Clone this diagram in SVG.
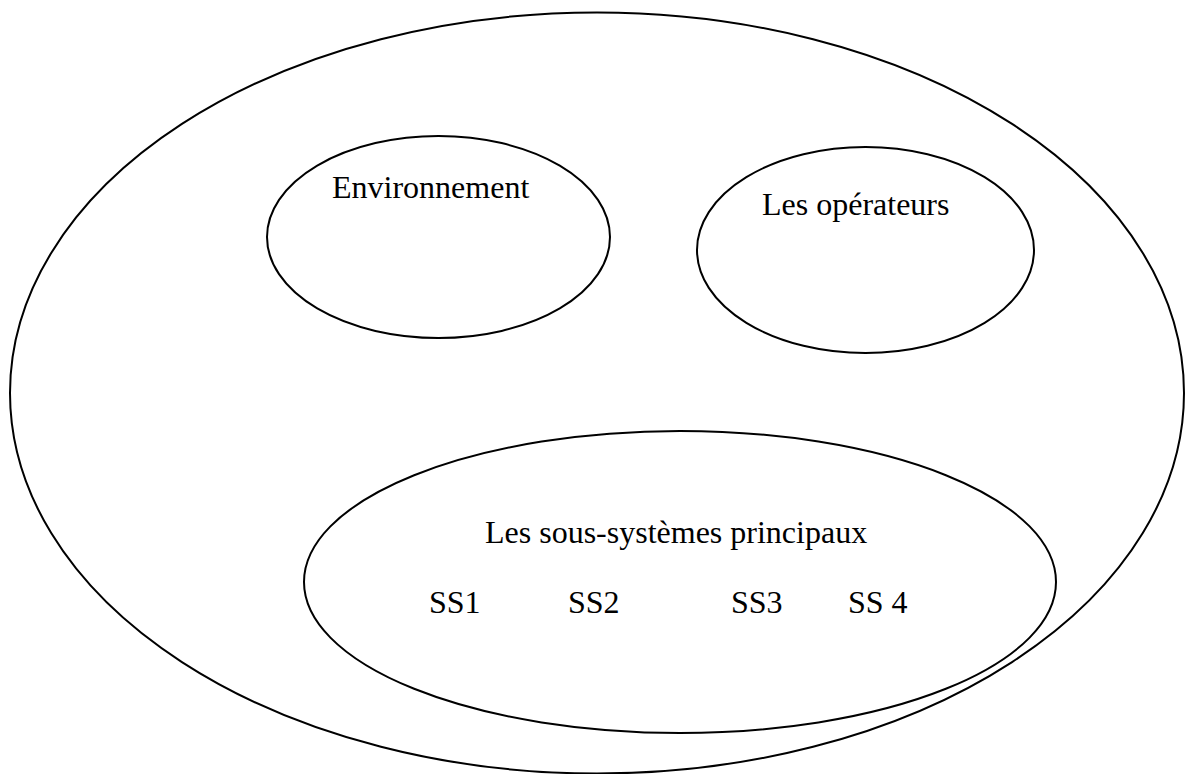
<svg xmlns="http://www.w3.org/2000/svg" width="1192" height="774" viewBox="0 0 1192 774">
  <style>
    .shape { fill: none; stroke: #000; stroke-width: 2; }
    .label { font-family: "Liberation Serif", "Times New Roman", serif; font-size: 32px; fill: #000; }
  </style>
  <rect width="1192" height="774" fill="#fff"/>
  <g id="systeme">
    <ellipse class="shape" cx="597" cy="393" rx="587" ry="380.5"/>
  </g>
  <g id="environnement">
    <ellipse class="shape" cx="438.5" cy="237" rx="171.5" ry="101"/>
    <text class="label" x="332" y="198">Environnement</text>
  </g>
  <g id="operateurs">
    <ellipse class="shape" cx="865.5" cy="250" rx="168.5" ry="103"/>
    <text class="label" x="762" y="215">Les opérateurs</text>
  </g>
  <g id="sous-systemes">
    <ellipse class="shape" cx="680" cy="582" rx="376" ry="151"/>
    <text class="label" x="485" y="543">Les sous-systèmes principaux</text>
    <text class="label" x="429" y="613">SS1</text>
    <text class="label" x="568" y="613">SS2</text>
    <text class="label" x="731" y="613">SS3</text>
    <text class="label" x="848" y="613">SS 4</text>
  </g>
  <g id="connectors"/>
</svg>
